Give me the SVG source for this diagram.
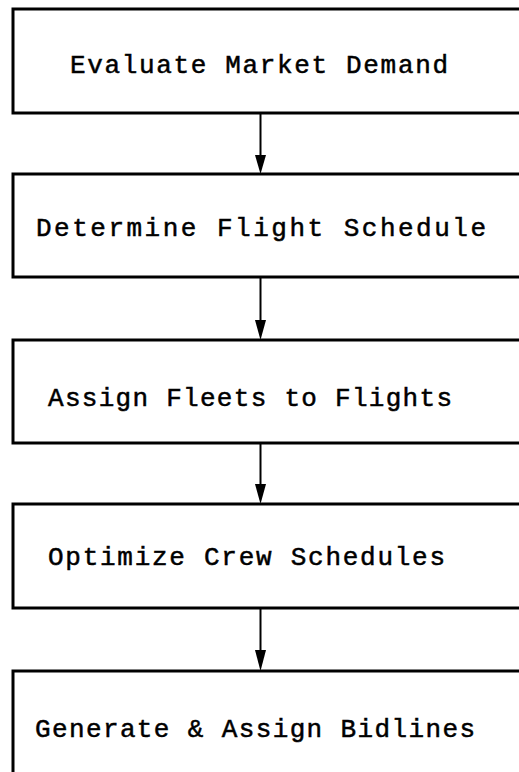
<svg xmlns="http://www.w3.org/2000/svg" width="519" height="772" viewBox="0 0 519 772">
<style>
.box{fill:#fff;stroke:#000;stroke-width:3}
.lbl{font-family:"Courier New","Nimbus Mono PS","FreeMono","Liberation Mono",monospace;font-size:26px;fill:#000;stroke:#000;stroke-width:0.5}
.conn{stroke:#000;stroke-width:2;fill:none}
.head{fill:#000}
</style>
<rect width="519" height="772" fill="#fff"/>
<g id="n1"><rect class="box" x="13" y="9" width="530" height="104"/><text class="lbl" x="70" y="73" textLength="378" lengthAdjust="spacing">Evaluate Market Demand</text></g>
<g id="n2"><rect class="box" x="13" y="174" width="530" height="103"/><text class="lbl" x="36" y="236" textLength="450" lengthAdjust="spacing">Determine Flight Schedule</text></g>
<g id="n3"><rect class="box" x="13" y="340" width="530" height="103"/><text class="lbl" x="48" y="406" textLength="404" lengthAdjust="spacing">Assign Fleets to Flights</text></g>
<g id="n4"><rect class="box" x="13" y="504" width="530" height="104"/><text class="lbl" x="48" y="565" textLength="397" lengthAdjust="spacing">Optimize Crew Schedules</text></g>
<g id="n5"><rect class="box" x="13" y="671" width="530" height="120"/><text class="lbl" x="35" y="737" textLength="440" lengthAdjust="spacing">Generate &amp; Assign Bidlines</text></g>
<g id="connectors">
<line class="conn" x1="260.5" y1="114" x2="260.5" y2="156"/><polygon class="head" points="255,155 266,155 260.5,174"/>
<line class="conn" x1="260.5" y1="278" x2="260.5" y2="322"/><polygon class="head" points="255,320 266,320 260.5,340"/>
<line class="conn" x1="260.5" y1="444" x2="260.5" y2="486"/><polygon class="head" points="255,484 266,484 260.5,504"/>
<line class="conn" x1="260.5" y1="609" x2="260.5" y2="652"/><polygon class="head" points="255,650 266,650 260.5,671"/>
</g>
</svg>
